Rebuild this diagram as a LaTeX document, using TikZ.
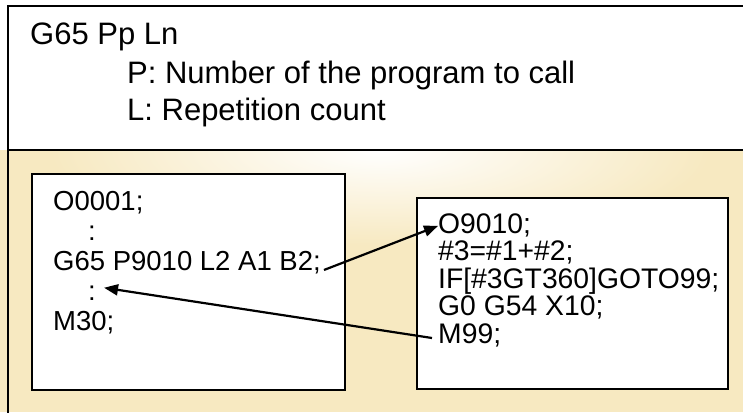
\documentclass[tikz,border=0pt]{standalone}
\usepackage{fontspec}
\setmainfont{Liberation Sans}
\usetikzlibrary{arrows.meta,calc}
\definecolor{cream}{RGB}{247,233,193}
\tikzset{
  frame/.style={line width=2pt, draw=black},
  codebox/.style={line width=2pt, draw=black, fill=white},
  hdr/.style={anchor=base west, inner sep=0pt, font=\fontsize{31}{36}\selectfont},
  code/.style={anchor=base west, inner sep=0pt, font=\fontsize{27.5}{32}\selectfont},
  rcode/.style={code, font=\fontsize{28.3}{32}\selectfont},
  arr/.style={line width=2.2pt, -{Triangle[length=14pt,width=11pt]}}
}
\begin{document}
\begin{tikzpicture}[x=1pt,y=-1pt]
\useasboundingbox (0,0) rectangle (743,412);
% backgrounds
\fill[white] (0,0) rectangle (743,150);
\fill[cream] (0,150) rectangle (743,412);
\begin{scope}
  \clip (0,150) rectangle (743,412);
  \shade[inner color=white, outer color=cream] (380,150) ellipse (330 and 95);
\end{scope}
% frame lines
\draw[frame] (8,413) -- (8,6) -- (744,6);
\draw[frame] (8,150) -- (744,150);
% code boxes
\draw[codebox] (32,174) rectangle (345,390);
\draw[codebox] (417,198) rectangle (728,389);
% header text
\node[hdr] (h1) at (30,45) {G65 Pp Ln};
\node[hdr] (h2) at (127,83) {P: Number of the program to call};
\node[hdr] (h3) at (127,120) {L: Repetition count};
% left program
\node[code] (l1) at (53,210) {O0001;};
\node[code] (l2) at (88,240) {:};
\node[code] (l3) at (53,270) {G65 P9010 L2 A1 B2;};
\node[code] (l4) at (88,300) {:};
\node[code] (l5) at (53,330) {M30;};
% right program
\node[rcode] (r1) at (438,233) {O9010;};
\node[rcode] (r2) at (438,260.5) {\#3=\#1+\#2;};
\node[rcode] (r3) at (438,288) {IF[\#3GT360]GOTO99;};
\node[rcode] (r4) at (438,315.5) {G0 G54 X10;};
\node[rcode] (r5) at (438,343) {M99;};
% connectors
\draw[arr] ($(l3.base east)+(3,0)$) -- ($(r1.west)+(0,1)$);
\draw[arr] ($(r5.base west)+(-6,-5)$) -- ($(l4.east)+(8,-5)$);
\end{tikzpicture}
\end{document}
